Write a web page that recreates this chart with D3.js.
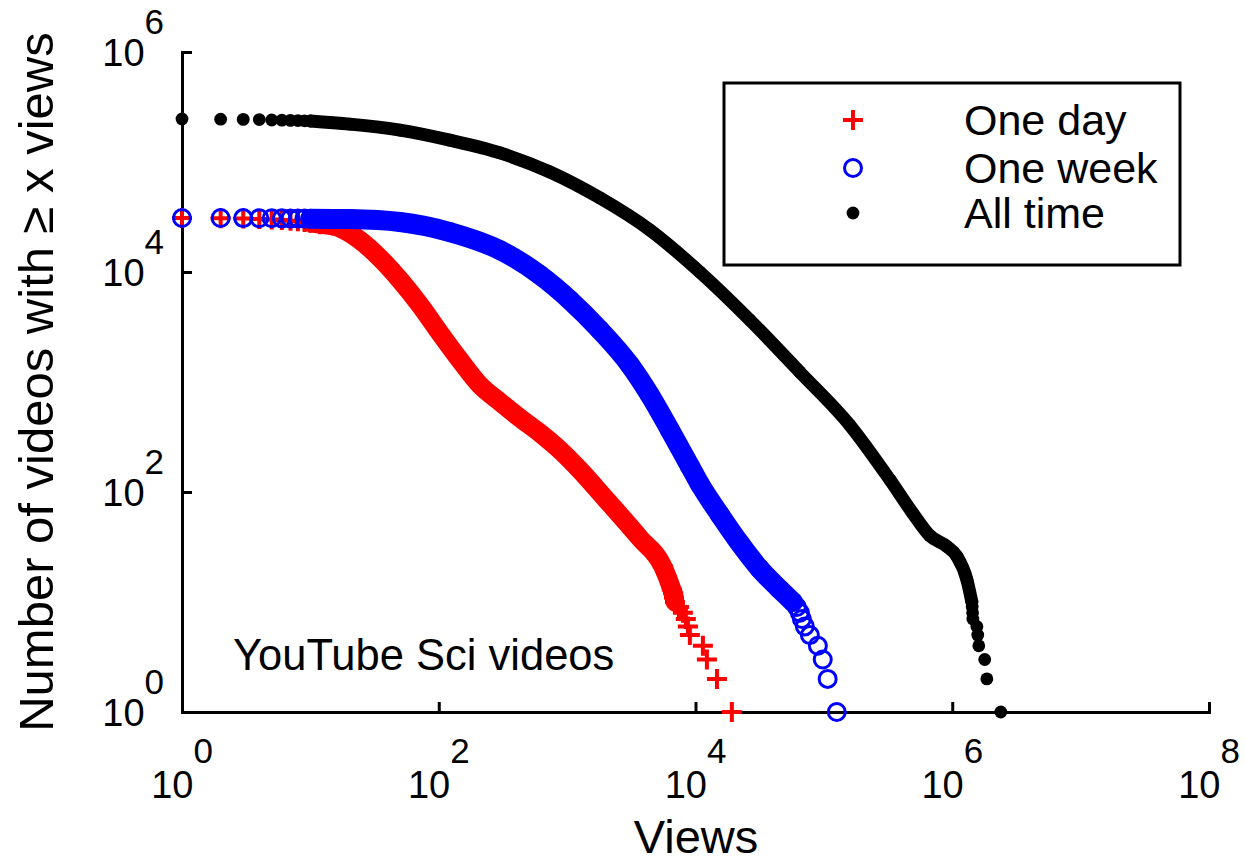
<!DOCTYPE html>
<html>
<head>
<meta charset="utf-8">
<script src="https://cdn.jsdelivr.net/npm/d3@7/dist/d3.min.js"></script>
<style>
  html, body { margin: 0; padding: 0; background: #fff; }
  svg { display: block; font-family: "Liberation Sans", Arial, Helvetica, sans-serif; }
</style>
</head>
<body>
<svg id="chart" width="1245" height="864"></svg>
<script>
// Complementary cumulative view counts: number of videos with at least x views.
const seriesNames = ["One day", "One week", "All time"];

const dayViews = [1, 2, 3, 4, 5, 6, 7, 8, 9, 10, 11.9, 17, 24.3, 34.8, 49.9, 71.4, 102, 146, 209, 300, 429, 614, 879, 1259, 1968, 3690, 5570, 6550, 6700, 6800, 6920, 7430, 7980, 8410, 8730, 9040, 11420, 12270, 14700, 19200];
const dayCounts = [31000, 30800, 30600, 30300, 30000, 29700, 29300, 28900, 28500, 28000, 27200, 25100, 19500, 13400, 8460, 5010, 2790, 1585, 939, 658, 471, 344, 241, 158, 88, 38, 21, 13, 12, 11, 10, 9, 8, 7, 6, 5, 4, 3, 2, 1];

const weekViews = [1, 2, 3, 4, 5, 6, 7, 8, 9, 10, 20.3, 49.9, 122, 300, 614, 1051, 1800, 3085, 4410, 6320, 9040, 10800, 15500, 22200, 31700, 45400, 57400, 61600, 65000, 67400, 71100, 77800, 89800, 98000, 107000, 126000];
const weekCounts = [31000, 30950, 30900, 30850, 30800, 30750, 30700, 30650, 30600, 30550, 30300, 28500, 23100, 15800, 9390, 5560, 2970, 1428, 762, 366, 172, 118, 62, 34, 20, 13, 10, 9, 8, 7, 6, 5, 4, 3, 2, 1];

const allViews = [1, 2, 3, 4, 5, 6, 7, 8, 9, 10, 20.3, 49.9, 122, 300, 735, 1800, 4410, 10800, 26500, 65000, 159000, 327000, 493000, 670000, 908000, 1087000, 1300000, 1422000, 1430000, 1440000, 1447000, 1555000, 1580000, 1610000, 1790000, 1860000, 2390000];
const allCounts = [246000, 245000, 244000, 243000, 241000, 240000, 239000, 238000, 237000, 236000, 221000, 195000, 158000, 121000, 81100, 47100, 24100, 10000, 3660, 1230, 406, 129, 64, 40, 32, 26, 16, 10, 9, 8, 7, 6, 5, 4, 3, 2, 1];

const xTicks = [1, 1e2, 1e4, 1e6, 1e8];
const xTickExps = ["0", "2", "4", "6", "8"];
const yTicks = [1, 1e2, 1e4, 1e6];
const yTickExps = ["0", "2", "4", "6"];

const svg = d3.select("#chart");

const x = d3.scaleLog().domain([1, 1e8]).range([182, 1209]);
const y = d3.scaleLog().domain([1, 1e6]).range([712, 52]);

// Axes with inward ticks
const xAxis = svg.append("g")
  .attr("transform", `translate(0,${y(1)})`)
  .call(d3.axisBottom(x).tickValues(xTicks).tickSizeInner(-10).tickSizeOuter(0).tickFormat(""));
const yAxis = svg.append("g")
  .attr("transform", `translate(${x(1)},0)`)
  .call(d3.axisLeft(y).tickValues(yTicks).tickSizeInner(-10).tickSizeOuter(0).tickFormat(""));
[xAxis, yAxis].forEach(g => {
  g.select(".domain").attr("stroke", "#000").attr("stroke-width", 3).attr("stroke-linecap", "square");
  g.selectAll(".tick line").attr("stroke", "#000").attr("stroke-width", 3);
});

// Power-of-ten tick labels
xTicks.forEach((v, i) => {
  const t = svg.append("text")
    .attr("x", x(v)).attr("y", 798)
    .attr("text-anchor", "middle")
    .attr("font-size", 38).attr("fill", "#000")
    .text("10");
  t.append("tspan").attr("dy", -35).attr("font-size", 35).text(xTickExps[i]);
});
yTicks.forEach((v, i) => {
  const t = svg.append("text")
    .attr("x", 164).attr("y", y(v) + 14)
    .attr("text-anchor", "end")
    .attr("font-size", 38).attr("fill", "#000")
    .text("10");
  t.append("tspan").attr("dy", -32).attr("font-size", 35).text(yTickExps[i]);
});

// Axis titles
svg.append("text")
  .attr("x", 696).attr("y", 853)
  .attr("text-anchor", "middle")
  .attr("font-size", 47).attr("fill", "#000")
  .text("Views");
svg.append("text")
  .attr("transform", "translate(53,382) rotate(-90)")
  .attr("text-anchor", "middle")
  .attr("font-size", 49).attr("fill", "#000")
  .text("Number of videos with \u2265 x views");

svg.append("text")
  .attr("x", 233).attr("y", 670)
  .attr("font-size", 43.5).attr("fill", "#000")
  .text("YouTube Sci videos");

// Marker styles
const plusPath = "M-10,0H10M0,-10V10";
function drawMarker(g, kind, color) {
  if (kind === "plus") {
    g.append("path").attr("d", plusPath).attr("stroke", color).attr("stroke-width", 4).attr("fill", "none");
  } else if (kind === "circle") {
    g.append("circle").attr("r", 8.5).attr("stroke", color).attr("stroke-width", 3).attr("fill", "none");
  } else {
    g.append("circle").attr("r", 6.4).attr("fill", color);
  }
}

const series = [
  { name: seriesNames[0], views: dayViews, counts: dayCounts, kind: "plus", color: "#ff0000", band: 19 },
  { name: seriesNames[1], views: weekViews, counts: weekCounts, kind: "circle", color: "#0000ff", band: 20 },
  { name: seriesNames[2], views: allViews, counts: allCounts, kind: "dot", color: "#000000", band: 13 }
];

const line = d3.line().x(d => x(d[0])).y(d => y(d[1])).curve(d3.curveMonotoneX);

series.forEach(s => {
  const pts = s.views.map((v, i) => [v, s.counts[i]]);
  const g = svg.append("g").attr("class", "series");
  // Dense stretch: overlapping markers merge into a solid band
  const dense = pts.filter(p => p[0] >= 10 && p[1] >= 10);
  g.append("path")
    .attr("d", line(dense))
    .attr("fill", "none")
    .attr("stroke", s.color)
    .attr("stroke-width", s.band)
    .attr("stroke-linejoin", "round")
    .attr("stroke-linecap", "round");
  pts.forEach(p => {
    const m = g.append("g").attr("transform", `translate(${x(p[0])},${y(p[1])})`);
    drawMarker(m, s.kind, s.color);
  });
});

// Legend
const legend = svg.append("g");
legend.append("rect")
  .attr("x", 724).attr("y", 83).attr("width", 456).attr("height", 182)
  .attr("fill", "#fff").attr("stroke", "#000").attr("stroke-width", 3);
const legendRows = [120, 168, 213];
series.forEach((s, i) => {
  const m = legend.append("g").attr("transform", `translate(853,${legendRows[i]})`);
  drawMarker(m, s.kind, s.color);
  legend.append("text")
    .attr("x", 964).attr("y", legendRows[i] + 15)
    .attr("font-size", 43).attr("fill", "#000")
    .text(s.name);
});
</script>
</body>
</html>
